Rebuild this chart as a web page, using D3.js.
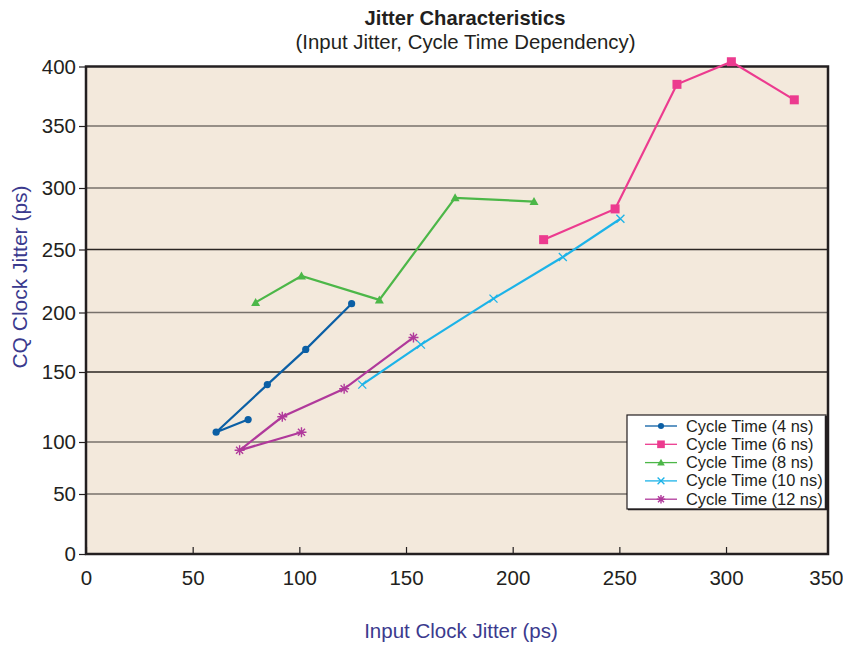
<!DOCTYPE html>
<html><head><meta charset="utf-8">
<script src="https://cdn.jsdelivr.net/npm/d3@7"></script>
<style>
body{margin:0;background:#fff;}
text{font-family:"Liberation Sans",Arial,sans-serif;}
</style></head>
<body><svg id="c" width="843" height="645"></svg>
<script>
const seriesNames = ["Cycle Time (4 ns)","Cycle Time (6 ns)","Cycle Time (8 ns)","Cycle Time (10 ns)","Cycle Time (12 ns)"];
const s4x  = [76, 61, 85, 103, 124.5];
const s4y  = [116, 107, 141, 169, 207];
const s6x  = [214.5, 248, 277, 302.5, 332];
const s6y  = [258, 283, 385, 404, 372];
const s8x  = [79.5, 101, 137.5, 173, 210];
const s8y  = [208, 229, 210, 292, 289];
const s10x = [129.5, 157, 191, 223.5, 250.5];
const s10y = [141, 173, 211, 244, 275];
const s12x = [101, 72, 92, 121, 153.5];
const s12y = [107, 92, 118, 138, 179];
const xTicks = [0, 50, 100, 150, 200, 250, 300, 350];
const yTicks = [0, 50, 100, 150, 200, 250, 300, 350, 400];
const colors = ["#0b5fa5", "#ec3b8f", "#4cb748", "#1cb3e8", "#b0399b"];
const markers = ["circle", "square", "triangle", "cross", "star"];

const svg = d3.select("#c");
const L = 86, R = 828, T = 66.5, B = 554;
const x = d3.scaleLinear().domain([0, 350]).range([L, 832.7]);
// the reference axis has uneven gridline spacing; follow it with a piecewise scale
const y = d3.scaleLinear().domain(yTicks).range([554, 494, 442, 372, 312.5, 249.5, 188, 126, 66.5]);

// background
svg.append("rect").attr("x", L).attr("y", T).attr("width", R - L).attr("height", B - T).attr("fill", "#f3e9dc");

// gridlines
const darkGrid = [150, 250];
svg.append("g").selectAll("line").data(yTicks.filter(d => d > 0 && d < 400)).join("line")
  .attr("x1", L).attr("x2", R).attr("y1", d => y(d)).attr("y2", d => y(d))
  .attr("stroke", d => darkGrid.includes(d) ? "#2a2522" : "#77716b").attr("stroke-width", 1.6);

// axes
const yAxis = d3.axisLeft(y).tickValues(yTicks).tickSize(7).tickPadding(3);
const gy = svg.append("g").attr("transform", `translate(${L},0)`).call(yAxis);
gy.select(".domain").remove();
gy.selectAll(".tick line").attr("stroke", "#231f20").attr("stroke-width", 1.2);
gy.selectAll(".tick text").attr("font-size", 20.5).attr("fill", "#231f20").attr("font-family", "Liberation Sans, Arial, sans-serif");

const xAxis = d3.axisBottom(x).tickValues(xTicks).tickSize(-7).tickPadding(16);
const gx = svg.append("g").attr("transform", `translate(0,${B})`).call(xAxis);
gx.select(".domain").remove();
gx.selectAll(".tick line").attr("stroke", "#231f20").attr("stroke-width", 1.2)
  .attr("display", d => d === 350 ? "none" : null);
gx.selectAll(".tick text").attr("font-size", 20.5).attr("fill", "#231f20").attr("font-family", "Liberation Sans, Arial, sans-serif");
// keep the last label inside the window
gx.selectAll(".tick text").filter(d => d === 350).attr("text-anchor", "end").attr("x", 843 - x(350));

// frame
svg.append("rect").attr("x", L).attr("y", T).attr("width", R - L).attr("height", B - T)
  .attr("fill", "none").attr("stroke", "#231f20").attr("stroke-width", 2.5);

// series
const series = [[s4x, s4y], [s6x, s6y], [s8x, s8y], [s10x, s10y], [s12x, s12y]];
function drawMarker(g, type, cx, cy, color, s) {
  s = s || 1;
  if (type === "circle") g.append("circle").attr("cx", cx).attr("cy", cy).attr("r", 3.6 * s).attr("fill", color);
  else if (type === "square") g.append("rect").attr("x", cx - 4.5 * s).attr("y", cy - 4.5 * s).attr("width", 9 * s).attr("height", 9 * s).attr("fill", color);
  else if (type === "triangle") g.append("path").attr("d", `M${cx},${cy - 4.5 * s}L${cx + 4.5 * s},${cy + 3.5 * s}L${cx - 4.5 * s},${cy + 3.5 * s}Z`).attr("fill", color);
  else if (type === "cross") g.append("path").attr("d", `M${cx - 4 * s},${cy - 4 * s}L${cx + 4 * s},${cy + 4 * s}M${cx - 4 * s},${cy + 4 * s}L${cx + 4 * s},${cy - 4 * s}`).attr("stroke", color).attr("stroke-width", 1.3);
  else if (type === "star") {
    const r = 5 * s;
    let d = "";
    for (let i = 0; i < 4; i++) {
      const a = i * Math.PI / 4;
      d += `M${cx - r * Math.cos(a)},${cy - r * Math.sin(a)}L${cx + r * Math.cos(a)},${cy + r * Math.sin(a)}`;
    }
    g.append("path").attr("d", d).attr("stroke", color).attr("stroke-width", 1.4);
  }
}
const line = d3.line().x(d => x(d[0])).y(d => y(d[1]));
series.forEach((sr, i) => {
  const pts = sr[0].map((v, j) => [v, sr[1][j]]);
  const g = svg.append("g");
  g.append("path").attr("d", line(pts)).attr("fill", "none").attr("stroke", colors[i]).attr("stroke-width", 2.2);
  pts.forEach(p => drawMarker(g, markers[i], x(p[0]), y(p[1]), colors[i]));
});

// legend
const lg = svg.append("g");
lg.append("rect").attr("x", 627).attr("y", 415).attr("width", 199).attr("height", 94).attr("fill", "#fff").attr("stroke", "#231f20").attr("stroke-width", 1.2);
lg.append("line").attr("x1", 826).attr("x2", 826).attr("y1", 416).attr("y2", 510).attr("stroke", "#231f20").attr("stroke-width", 2.5);
lg.append("line").attr("x1", 628).attr("x2", 827).attr("y1", 509.5).attr("y2", 509.5).attr("stroke", "#231f20").attr("stroke-width", 1.6);
seriesNames.forEach((n, i) => {
  const yy = 426 + i * 18.3;
  lg.append("line").attr("x1", 645).attr("x2", 677).attr("y1", yy).attr("y2", yy).attr("stroke", colors[i]).attr("stroke-width", 1.3);
  drawMarker(lg, markers[i], 661, yy, colors[i], 0.85);
  lg.append("text").attr("x", 686).attr("y", yy + 5.5).attr("font-size", 16.4).attr("fill", "#231f20").text(n);
});

// titles
svg.append("text").attr("x", 465).attr("y", 25).attr("text-anchor", "middle").attr("font-size", 20.2).attr("font-weight", "bold").attr("fill", "#231f20").text("Jitter Characteristics");
svg.append("text").attr("x", 465.5).attr("y", 49).attr("text-anchor", "middle").attr("font-size", 20.4).attr("fill", "#231f20").text("(Input Jitter, Cycle Time Dependency)");
svg.append("text").attr("transform", "translate(27,277) rotate(-90)").attr("text-anchor", "middle").attr("font-size", 21).attr("fill", "#3b3a8e").text("CQ Clock Jitter (ps)");
svg.append("text").attr("x", 461).attr("y", 638).attr("text-anchor", "middle").attr("font-size", 20.5).attr("fill", "#3b3a8e").text("Input Clock Jitter (ps)");
</script></body></html>
